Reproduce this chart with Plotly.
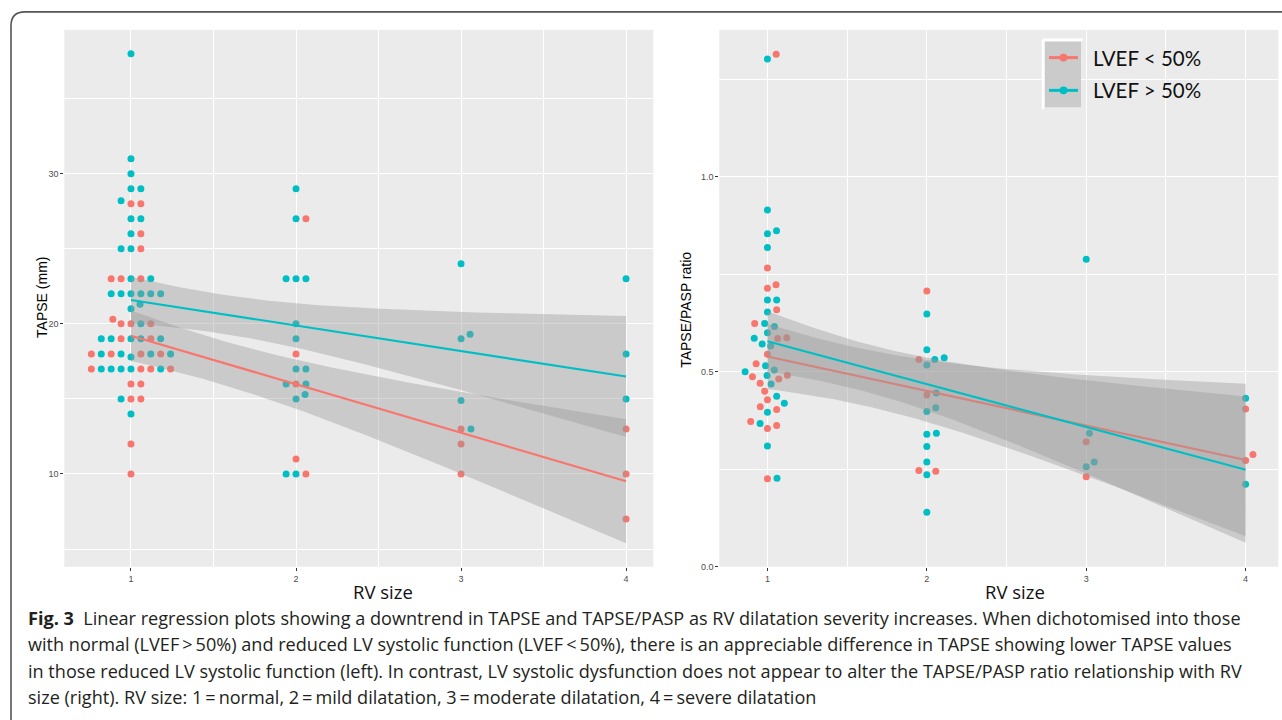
import numpy as np
import plotly.graph_objects as go

W, H = 1282, 720

# ---------------- DATA ----------------
# Left panel: TAPSE (mm) vs RV size (x includes the dodge offset seen in the plot)
tapse_red_x = [1.0, 1.06, 1.06, 1.06, 0.88, 0.94, 1.06, 0.89, 0.94, 1.0, 1.12, 0.94, 1.12,
               0.76, 0.88, 1.06, 1.18, 0.76, 1.06, 1.12, 1.24, 1.0, 1.06, 1.0, 1.06, 1.0, 1.0,
               2.06, 2.0, 2.0, 2.0, 2.06,
               3.0, 3.0, 3.0,
               4.0, 4.0, 4.0]
tapse_red_y = [28, 28, 26, 25, 23, 23, 23, 20.3, 20, 20, 20, 19, 19,
               18, 18, 18, 18, 17, 17, 17, 17, 16, 16, 15, 15, 12, 10,
               27, 18, 16, 11, 10,
               13, 12, 10,
               13, 10, 7]
tapse_teal_x = [1.0, 1.0, 1.0, 1.0, 1.06, 0.94, 1.0, 1.06, 1.0, 0.94, 1.0, 1.0, 1.12,
                0.88, 0.94, 1.0, 1.06, 1.12, 1.18, 1.0, 1.055, 1.06,
                0.82, 0.88, 1.0, 1.06, 1.18, 0.82, 0.94, 1.0, 1.12, 1.24,
                0.82, 0.88, 0.94, 1.0, 1.18, 0.94, 1.0,
                2.0, 2.0, 1.94, 2.0, 2.06, 2.0, 2.0, 2.0, 2.06, 1.94, 2.06, 2.055, 2.0, 1.94, 2.0,
                3.0, 3.0, 3.055, 3.0, 3.06,
                4.0, 4.0, 4.0]
tapse_teal_y = [38, 31, 30, 29, 29, 28.2, 27, 27, 26, 25, 25, 23, 23,
                22, 22, 22, 22, 22, 22, 21, 21.3, 20,
                19, 19, 19, 19, 19, 18, 18, 17.8, 18, 18,
                17, 17, 17, 17, 17, 15, 14,
                29, 27, 23, 23, 23, 20, 19, 17, 17, 16, 16, 15.3, 15, 10, 10,
                24, 19, 19.3, 14.9, 13,
                23, 18, 15]

# Right panel: TAPSE/PASP ratio vs RV size
ratio_red_x = [1.055, 1.0, 1.0, 1.054, 1.058, 0.92, 1.064, 1.121, 1.0, 0.929, 0.906, 1.071,
               1.125, 0.954, 0.983, 1.0, 0.955, 1.058, 0.895, 1.058, 1.0, 1.0,
               2.0, 1.95, 2.0, 1.95, 2.056,
               3.0, 3.0,
               4.0, 4.046, 4.0]
ratio_red_y = [1.315, 0.766, 0.714, 0.723, 0.659, 0.624, 0.585, 0.587, 0.545, 0.520, 0.487, 0.481,
               0.491, 0.470, 0.450, 0.428, 0.410, 0.403, 0.372, 0.362, 0.354, 0.225,
               0.707, 0.531, 0.440, 0.246, 0.244,
               0.320, 0.230,
               0.404, 0.287, 0.272]
ratio_teal_x = [1.0, 1.0, 1.057, 1.0, 1.0, 1.0, 1.058, 1.0, 0.983, 1.044, 1.0, 0.917, 0.967,
                1.02, 0.988, 1.043, 0.86, 0.998, 1.023, 1.058, 1.106, 1.0, 0.954, 1.0, 1.06,
                2.0, 2.0, 2.05, 2.109, 2.0, 2.059, 2.0, 2.056, 2.0, 2.06, 2.0, 2.0, 2.0, 2.0,
                3.0, 3.02, 3.0, 3.05,
                4.0, 4.0]
ratio_teal_y = [1.303, 0.915, 0.862, 0.854, 0.819, 0.684, 0.684, 0.653, 0.624, 0.616, 0.600, 0.586, 0.571,
                0.566, 0.515, 0.504, 0.500, 0.490, 0.468, 0.437, 0.419, 0.396, 0.367, 0.309, 0.226,
                0.648, 0.556, 0.531, 0.536, 0.517, 0.445, 0.398, 0.407, 0.339, 0.342, 0.308, 0.268, 0.235, 0.139,
                0.789, 0.342, 0.256, 0.268,
                0.432, 0.211]

group_names = ["LVEF &lt; 50%", "LVEF &gt; 50%"]
x_ticks = [1, 2, 3, 4]
left_y_ticks = [10, 20, 30]
right_y_ticks = [0.0, 0.5, 1.0]
right_y_ticklabels = ["0.0", "0.5", "1.0"]

caption_lines = [
    "<b>Fig. 3</b>  Linear regression plots showing a downtrend in TAPSE and TAPSE/PASP as RV dilatation severity increases. When dichotomised into those",
    "with normal (LVEF\u2009&gt;\u200950%) and reduced LV systolic function (LVEF\u2009&lt;\u200950%), there is an appreciable difference in TAPSE showing lower TAPSE values",
    "in those reduced LV systolic function (left). In contrast, LV systolic dysfunction does not appear to alter the TAPSE/PASP ratio relationship with RV",
    "size (right). RV size: 1\u2009=\u2009normal, 2\u2009=\u2009mild dilatation, 3\u2009=\u2009moderate dilatation, 4\u2009=\u2009severe dilatation",
]

RED = "#F8766D"
TEAL = "#00BFC4"
RIBBON = "rgba(153,153,153,0.4)"


def t975(df):
    z = 1.959963985
    g1 = (z**3 + z) / 4
    g2 = (5 * z**5 + 16 * z**3 + 3 * z) / 96
    g3 = (3 * z**7 + 19 * z**5 + 17 * z**3 - 15 * z) / 384
    g4 = (79 * z**9 + 776 * z**7 + 1482 * z**5 - 1920 * z**3 - 945 * z) / 92160
    return z + g1 / df + g2 / df**2 + g3 / df**3 + g4 / df**4


def lm_fit(xs, ys):
    x = np.round(np.asarray(xs, float))
    y = np.asarray(ys, float)
    n = len(x)
    b, a = np.polyfit(x, y, 1)
    resid = y - (a + b * x)
    s = np.sqrt(np.sum(resid**2) / (n - 2))
    xm = x.mean()
    sxx = np.sum((x - xm) ** 2)
    grid = np.linspace(x.min(), x.max(), 80)
    fit = a + b * grid
    se = s * np.sqrt(1 / n + (grid - xm) ** 2 / sxx)
    t = t975(n - 2)
    return grid, fit, fit - t * se, fit + t * se


fig = go.Figure()

panels = [
    ("x", "y", tapse_red_x, tapse_red_y, tapse_teal_x, tapse_teal_y),
    ("x2", "y2", ratio_red_x, ratio_red_y, ratio_teal_x, ratio_teal_y),
]
for xa, ya, rx, ry, tx, ty in panels:
    fig.add_trace(go.Scatter(x=rx, y=ry, mode="markers", xaxis=xa, yaxis=ya,
                             marker=dict(color=RED, size=7), showlegend=False, hoverinfo="skip"))
    fig.add_trace(go.Scatter(x=tx, y=ty, mode="markers", xaxis=xa, yaxis=ya,
                             marker=dict(color=TEAL, size=7), showlegend=False, hoverinfo="skip"))
    for gx, gy, col in [(rx, ry, RED), (tx, ty, TEAL)]:
        grid, fit, lo, hi = lm_fit(gx, gy)
        fig.add_trace(go.Scatter(x=np.concatenate([grid, grid[::-1]]),
                                 y=np.concatenate([hi, lo[::-1]]),
                                 fill="toself", fillcolor=RIBBON, line=dict(width=0),
                                 mode="lines", xaxis=xa, yaxis=ya, showlegend=False,
                                 hoverinfo="skip"))
        fig.add_trace(go.Scatter(x=grid, y=fit, mode="lines", xaxis=xa, yaxis=ya,
                                 line=dict(color=col, width=2.2), showlegend=False,
                                 hoverinfo="skip"))


def px_x(p):
    return p / W


def px_y(p):
    return 1 - p / H


tickfont = dict(family="Liberation Sans, Arial, sans-serif", size=9, color="#4D4D4D")
axis_common = dict(showgrid=True, gridcolor="white", gridwidth=1.3, zeroline=False,
                   showline=False, ticks="outside", ticklen=3, tickwidth=1, tickcolor="#333333",
                   tickfont=tickfont)

y_dom = [px_y(570.7), px_y(30)]
fig.update_layout(
    width=W, height=H, margin=dict(l=0, r=0, t=0, b=0),
    paper_bgcolor="white", plot_bgcolor="#EBEBEB", showlegend=False,
    xaxis=dict(domain=[px_x(64.3), px_x(653.3)], range=[0.596, 4.165], tickvals=x_ticks,
               minor=dict(dtick=0.5, tick0=0.5, showgrid=True, gridcolor="white", gridwidth=0.6, ticks=""),
               anchor="y", **axis_common),
    yaxis=dict(domain=y_dom, range=[3.82, 39.59], tickvals=left_y_ticks,
               minor=dict(dtick=5, tick0=0, showgrid=True, gridcolor="white", gridwidth=0.6, ticks=""),
               anchor="x", **axis_common),
    xaxis2=dict(domain=[px_x(719.3), px_x(1278.3)], range=[0.698, 4.205], tickvals=x_ticks,
                minor=dict(dtick=0.5, tick0=0.5, showgrid=True, gridcolor="white", gridwidth=0.6, ticks=""),
                anchor="y2", **axis_common),
    yaxis2=dict(domain=y_dom, range=[-0.001, 1.378], tickvals=right_y_ticks,
                ticktext=right_y_ticklabels,
                minor=dict(dtick=0.25, tick0=0, showgrid=True, gridcolor="white", gridwidth=0.6, ticks=""),
                anchor="x2", **axis_common),
)

ann = []
title_font = dict(family="Liberation Sans, Arial, sans-serif", size=14, color="black")
ann.append(dict(text="TAPSE (mm)", x=px_x(42), y=px_y(300), xref="paper", yref="paper",
                textangle=-90, showarrow=False, font=title_font, xanchor="center", yanchor="middle"))
ann.append(dict(text="TAPSE/PASP ratio", x=px_x(686), y=px_y(312), xref="paper", yref="paper",
                textangle=-90, showarrow=False, font=title_font, xanchor="center", yanchor="middle"))
rv_font = dict(family="Open Sans, sans-serif", size=18.5, color="#111111")
for cx in (383, 1015):
    ann.append(dict(text="RV size", x=px_x(cx), y=px_y(596), xref="paper", yref="paper",
                    showarrow=False, font=rv_font, xanchor="center", yanchor="middle"))

cap_font = dict(family="Open Sans, sans-serif", size=18.1, color="#231F20")
for i, line in enumerate(caption_lines):
    ann.append(dict(text=line, x=px_x(26), y=px_y(622 + i * 26.7), xref="paper", yref="paper",
                    showarrow=False, font=cap_font, xanchor="left", yanchor="middle", align="left"))

# manual legend
shapes = []
shapes.append(dict(type="rect", xref="paper", yref="paper", x0=px_x(1045), x1=px_x(1081),
                   y0=px_y(108), y1=px_y(42), fillcolor="#CBCBCB", line=dict(width=0), layer="above"))
shapes.append(dict(type="line", xref="paper", yref="paper", x0=px_x(1043), x1=px_x(1043),
                   y0=px_y(110), y1=px_y(40), line=dict(color="white", width=2.5), layer="above"))
shapes.append(dict(type="line", xref="paper", yref="paper", x0=px_x(1043), x1=px_x(1083),
                   y0=px_y(40), y1=px_y(40), line=dict(color="white", width=2.5), layer="above"))
leg_font = dict(family="Lato, sans-serif", size=20.5, color="#111111")
for name, col, yy in zip(group_names, [RED, TEAL], [58, 91]):
    shapes.append(dict(type="line", xref="paper", yref="paper", x0=px_x(1049), x1=px_x(1078),
                       y0=px_y(yy), y1=px_y(yy), line=dict(color=col, width=3), layer="above"))
    shapes.append(dict(type="circle", xref="paper", yref="paper", x0=px_x(1059.5), x1=px_x(1067.5),
                       y0=px_y(yy + 4), y1=px_y(yy - 4), fillcolor=col, line=dict(width=0), layer="above"))
    ann.append(dict(text=name, x=px_x(1091), y=px_y(yy), xref="paper", yref="paper",
                    showarrow=False, font=leg_font, xanchor="left", yanchor="middle"))

# outer frame of the figure
shapes.append(dict(type="path", xref="paper", yref="paper",
                   path=f"M {px_x(11)},{px_y(735)} L {px_x(11)},{px_y(26)} Q {px_x(11)},{px_y(12)} {px_x(25)},{px_y(12)} L {px_x(1290)},{px_y(12)}",
                   line=dict(color="#555555", width=1.6)))

fig.update_layout(annotations=ann, shapes=shapes)

fig.write_html("out.html", config={"displayModeBar": False},
               post_script="document.body.style.margin='0';document.body.style.overflow='hidden';")
